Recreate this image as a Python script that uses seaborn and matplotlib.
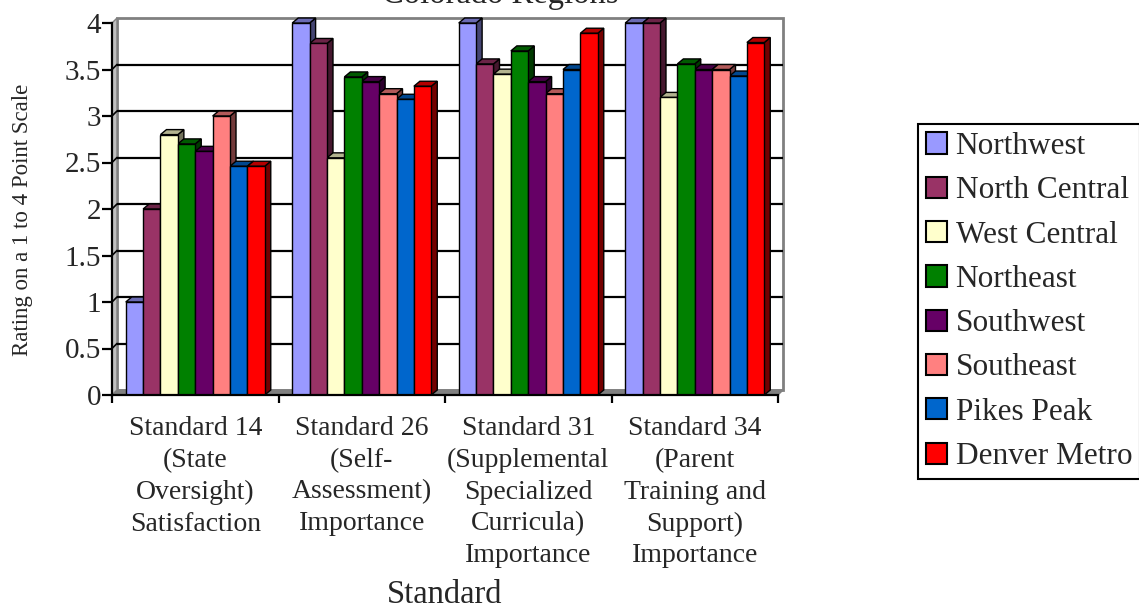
import numpy as np
import pandas as pd
import matplotlib
matplotlib.use('Agg')
import matplotlib.pyplot as plt
import matplotlib.colors as mcolors
from matplotlib.patches import Polygon, Patch
import seaborn as sns

# chart values
standards = ['Standard 14\n(State\nOversight)\nSatisfaction',
             'Standard 26\n(Self-\nAssessment)\nImportance',
             'Standard 31\n(Supplemental\nSpecialized\nCurricula)\nImportance',
             'Standard 34\n(Parent\nTraining and\nSupport)\nImportance']
regions = ['Northwest', 'North Central', 'West Central', 'Northeast',
           'Southwest', 'Southeast', 'Pikes Peak', 'Denver Metro']
colors = ['#9999FF', '#993366', '#FFFFCC', '#008000',
          '#660066', '#FF8080', '#0066CC', '#FF0000']

northwest = [1.0, 4.0, 4.0, 4.0]
north_central = [2.0, 3.78, 3.56, 4.0]
west_central = [2.8, 2.55, 3.45, 3.2]
northeast = [2.7, 3.42, 3.7, 3.56]
southwest = [2.62, 3.37, 3.37, 3.5]
southeast = [3.0, 3.24, 3.24, 3.5]
pikes_peak = [2.46, 3.18, 3.5, 3.43]
denver_metro = [2.46, 3.32, 3.89, 3.79]

y_ticks = [0, 0.5, 1, 1.5, 2, 2.5, 3, 3.5, 4]
y_ticklabels = ['0', '0.5', '1', '1.5', '2', '2.5', '3', '3.5', '4']

series = [northwest, north_central, west_central, northeast,
          southwest, southeast, pikes_peak, denver_metro]
rows = []
for reg, vals in zip(regions, series):
    for std, v in zip(standards, vals):
        rows.append({'standard': std, 'region': reg, 'rating': v})
df = pd.DataFrame(rows)

sns.set_style('white')
plt.rcParams['font.family'] = ['Liberation Serif', 'DejaVu Serif']

W, H = 1139, 606
fig = plt.figure(figsize=(W / 100, H / 100), dpi=100)
ax = fig.add_axes([112 / W, 211 / H, 666 / W, 372 / H])
ax.patch.set_visible(False)

sns.barplot(data=df, x='standard', y='rating', hue='region',
            order=standards, hue_order=regions, palette=colors,
            saturation=1, width=0.835, errorbar=None,
            edgecolor='black', linewidth=1.0, legend=False,
            zorder=10, ax=ax)

ax.set_xlim(-0.5, 3.5)
ax.set_ylim(0, 4)

# pixel -> data conversion for the fake 3d depth
px_x = ax.get_position().width * W / 4.0
px_y = ax.get_position().height * H / 4.0


def shade(c, f):
    r, g, b = mcolors.to_rgb(c)
    return (r * f, g * f, b * f)


# 3d caps and side faces for the bars
dxb, dyb = 6 / px_x, 5 / px_y
bars = sorted([p for p in ax.patches if p.get_height() > 0], key=lambda p: p.get_x())
for i, p in enumerate(bars):
    x0, w, h = p.get_x(), p.get_width(), p.get_height()
    fc = p.get_facecolor()
    z = 3 + i * 0.01
    side = Polygon([(x0 + w, 0), (x0 + w, h), (x0 + w + dxb, h + dyb), (x0 + w + dxb, dyb)],
                   closed=True, facecolor=shade(fc, 0.45), edgecolor='black',
                   linewidth=1.0, zorder=z, clip_on=False)
    top = Polygon([(x0, h), (x0 + w, h), (x0 + w + dxb, h + dyb), (x0 + dxb, h + dyb)],
                  closed=True, facecolor=shade(fc, 0.7), edgecolor='black',
                  linewidth=1.0, zorder=z + 0.005, clip_on=False)
    ax.add_patch(side)
    ax.add_patch(top)

# back wall, floor and side wall
dxw, dyw = 5 / px_x, 5 / px_y
ax.add_patch(Polygon([(-0.5 + dxw, dyw), (3.5 + dxw, dyw), (3.5 + dxw, 4 + dyw), (-0.5 + dxw, 4 + dyw)],
                     closed=True, facecolor='white', edgecolor='#808080',
                     linewidth=2.0, zorder=0, clip_on=False))
ax.add_patch(Polygon([(-0.5, 0), (3.5, 0), (3.5 + dxw, dyw), (-0.5 + dxw, dyw)],
                     closed=True, facecolor='#808080', edgecolor='#808080',
                     linewidth=1.0, zorder=1, clip_on=False))
ax.add_patch(Polygon([(-0.5, 0), (-0.5, 4), (-0.5 + dxw, 4 + dyw), (-0.5 + dxw, dyw)],
                     closed=True, facecolor='#c0c0c0', edgecolor='#808080',
                     linewidth=1.0, zorder=1, clip_on=False))
grid_vals = y_ticks[1:-1]
ax.hlines([v + dyw for v in grid_vals], -0.5 + dxw, 3.5 + dxw, colors='black',
          linewidth=1.6, zorder=1.5, clip_on=False)
for v in grid_vals:
    ax.plot([-0.5, -0.5 + dxw], [v, v + dyw], color='black', linewidth=1.2,
            zorder=1.5, clip_on=False)

# axes, ticks, labels
for s in ['top', 'right']:
    ax.spines[s].set_visible(False)
for s in ['left', 'bottom']:
    ax.spines[s].set_color('black')
    ax.spines[s].set_linewidth(1.6)
    ax.spines[s].set_zorder(12)

ax.set_yticks(y_ticks)
ax.set_yticklabels(y_ticklabels, fontsize=21)
ax.tick_params(axis='y', length=7, width=1.6, color='black', pad=1, left=True)

ax.set_xticks([-0.5, 0.5, 1.5, 2.5, 3.5])
ax.set_xticklabels([])
ax.set_xticks(range(len(standards)), minor=True)
ax.set_xticklabels(standards, minor=True, fontsize=20, linespacing=1.36)
ax.tick_params(axis='x', which='major', length=6, width=1.6, color='black', bottom=True)
ax.tick_params(axis='x', which='minor', length=0, pad=15)

ax.set_xlabel('Standard', fontsize=23.5)
ax.xaxis.set_label_coords(0.5, -0.497)
ax.set_ylabel('Rating on a 1 to 4 Point Scale', fontsize=16.5)
ax.yaxis.set_label_coords(-0.118, 0.47)

fig.text(0.439, 1 - 3 / H, 'Colorado Regions', ha='center', va='baseline', fontsize=23.5)

handles = [Patch(facecolor=c, edgecolor='black', linewidth=1.5) for c in colors]
leg = ax.legend(handles, regions, loc='center left',
                bbox_to_anchor=(918 / W, 1 - 301.5 / H), bbox_transform=fig.transFigure,
                fontsize=22.5, frameon=True, fancybox=False, framealpha=1,
                edgecolor='black', handlelength=0.67, handleheight=0.67,
                handletextpad=0.28, labelspacing=0.49, borderpad=0.25,
                borderaxespad=0)
leg.get_frame().set_linewidth(1.5)

fig.savefig('out.png', dpi=100)
